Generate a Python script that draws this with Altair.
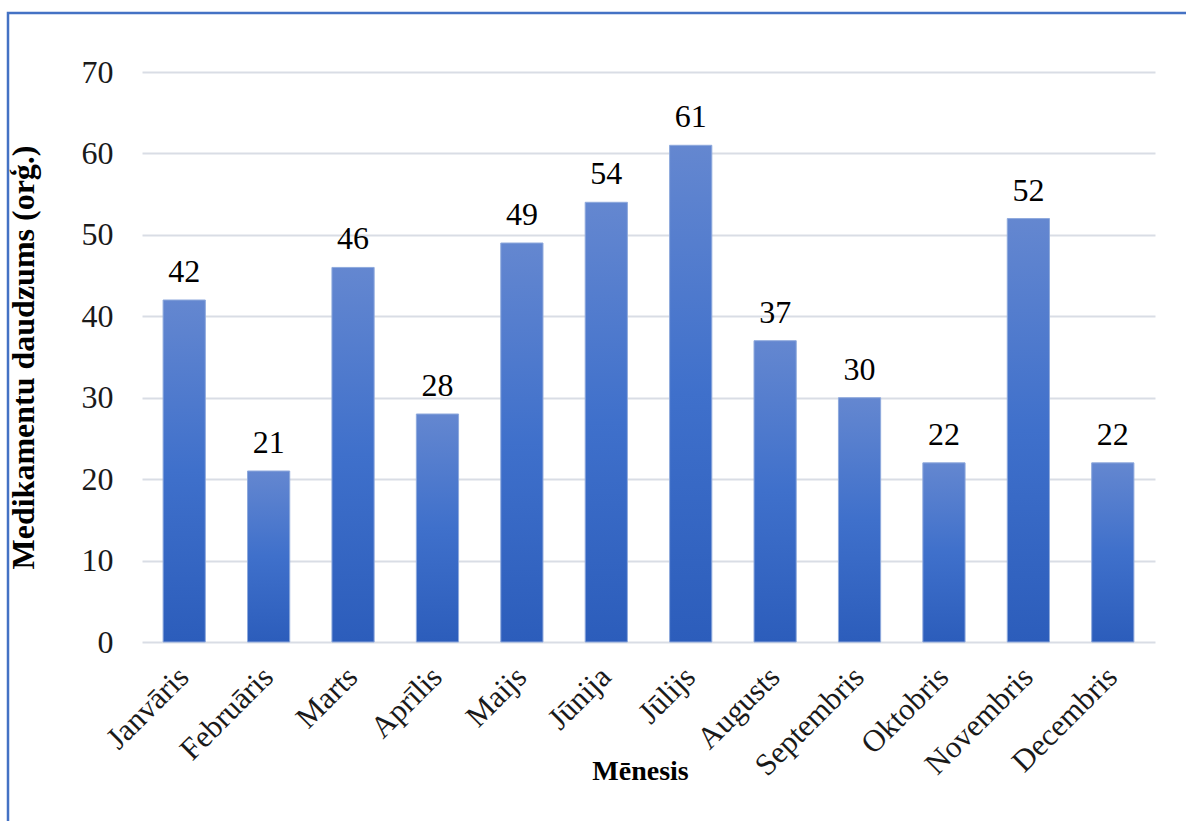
import altair as alt
import pandas as pd

months = ["Janvāris", "Februāris", "Marts", "Aprīlis", "Maijs", "Jūnija",
          "Jūlijs", "Augusts", "Septembris", "Oktobris", "Novembris", "Decembris"]
values = [42, 21, 46, 28, 49, 54, 61, 37, 30, 22, 52, 22]
y_ticks = [0, 10, 20, 30, 40, 50, 60, 70]

df = pd.DataFrame({"month": months, "value": values})

FONT = "Liberation Serif"
FS = 32

x_enc = alt.X(
    "month:N", sort=months,
    scale=alt.Scale(paddingInner=0.5, paddingOuter=0.25),
    axis=alt.Axis(
        title="Mēnesis", titleFont=FONT, titleFontSize=28, titleFontWeight="bold",
        titleColor="#000000", titleX=498, titleY=137, titleAlign="center",
        titleBaseline="alphabetic",
        labelAngle=-45, labelAlign="right", labelBaseline="middle",
        labelFont=FONT, labelFontSize=31, labelColor="#1a1a1a", labelPadding=30,
        ticks=False, domain=False, grid=False, labelOverlap=False,
    ),
)
y_enc = alt.Y(
    "value:Q",
    scale=alt.Scale(domain=[0, 70], nice=False),
    axis=alt.Axis(
        title="Medikamentu daudzums (orģ.)", titleFont=FONT, titleFontSize=32,
        titleFontWeight="bold", titleColor="#000000", titleAngle=-90,
        titleX=-119, titleY=285, titleAlign="center", titleBaseline="middle",
        values=y_ticks, labelFont=FONT, labelFontSize=FS, labelColor="#1a1a1a",
        labelPadding=29, ticks=False, domain=False, grid=True,
        gridColor="#D9DDE5", gridWidth=2,
    ),
)

bars = alt.Chart(df).mark_bar(
    color=alt.Gradient(
        gradient="linear",
        stops=[alt.GradientStop(color="#6487D0", offset=0),
               alt.GradientStop(color="#3F70CB", offset=0.5),
               alt.GradientStop(color="#2C5DBB", offset=1)],
        x1=0, x2=0, y1=0, y2=1,
    ),
    stroke="#8EA9DC", strokeWidth=1,
).encode(x=x_enc, y=y_enc)

labels = alt.Chart(df).mark_text(
    font=FONT, fontSize=FS, color="#000000", baseline="alphabetic", dy=-18
).encode(x=alt.X("month:N", sort=months), y="value:Q", text="value:Q")

border = alt.Chart(pd.DataFrame({"a": [0]})).mark_rect(
    fill=None, stroke="#4472C4", strokeWidth=2.5
).encode(x=alt.value(-134), x2=alt.value(1060), y=alt.value(-59), y2=alt.value(780))

chart = alt.layer(border, bars, labels).properties(
    width=1013, height=570,
    autosize=alt.AutoSizeParams(type="none"),
    padding={"left": 142, "top": 72, "right": 31, "bottom": 179},
    background="white",
).configure_view(stroke=None)

chart.save("out.html", embed_options={"renderer": "svg", "actions": False})
